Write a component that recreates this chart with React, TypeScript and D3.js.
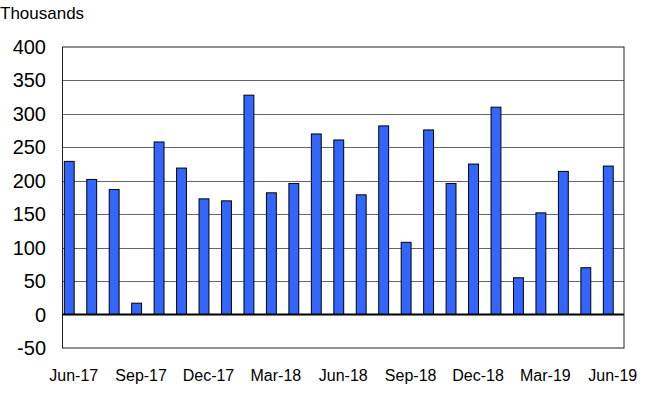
import * as d3 from 'd3';
import React, { useRef, useEffect } from 'react';

const months = [
  'Jun-17', 'Jul-17', 'Aug-17', 'Sep-17', 'Oct-17', 'Nov-17', 'Dec-17', 'Jan-18', 'Feb-18',
  'Mar-18', 'Apr-18', 'May-18', 'Jun-18', 'Jul-18', 'Aug-18', 'Sep-18', 'Oct-18', 'Nov-18',
  'Dec-18', 'Jan-19', 'Feb-19', 'Mar-19', 'Apr-19', 'May-19', 'Jun-19'
];
const values = [
  229, 202, 187, 17, 258, 219, 173, 170, 328,
  182, 196, 270, 261, 179, 282, 108, 276, 196,
  225, 310, 55, 152, 214, 70, 222
];
const tickMonths = ['Jun-17', 'Sep-17', 'Dec-17', 'Mar-18', 'Jun-18', 'Sep-18', 'Dec-18', 'Mar-19', 'Jun-19'];
const yTicks = [-50, 0, 50, 100, 150, 200, 250, 300, 350, 400];

function BarChart() {
  const ref = useRef<SVGSVGElement>(null);

  useEffect(() => {
    const svg = d3.select(ref.current);
    svg.selectAll('*').remove();
    draw(svg);
  }, []);

  const draw = (svg: any) => {
    const left = 62.5, right = 624, top = 47, bottom = 348;
    const font = 'Liberation Sans, Arial, sans-serif';

    const x = d3.scaleBand<string>().domain(months).range([left, right]).padding(0);
    const y = d3.scaleLinear().domain([-50, 400]).range([bottom, top]);

    // units label
    svg.append('text')
      .attr('x', 0)
      .attr('y', 18.5)
      .attr('font-family', font)
      .attr('font-size', '17px')
      .attr('fill', '#000')
      .text('Thousands');

    // gridlines
    svg.append('g')
      .selectAll('line')
      .data(yTicks.filter(d => d !== 0 && d !== -50 && d !== 400))
      .enter()
      .append('line')
      .attr('x1', left)
      .attr('x2', right)
      .attr('y1', (d: number) => Math.round(y(d)) + 0.5)
      .attr('y2', (d: number) => Math.round(y(d)) + 0.5)
      .attr('stroke', '#666')
      .attr('stroke-width', 1);

    // plot frame
    svg.append('rect')
      .attr('x', left)
      .attr('y', top)
      .attr('width', right - left)
      .attr('height', bottom - top)
      .attr('fill', 'none')
      .attr('stroke', '#222')
      .attr('stroke-width', 1);

    // y tick labels
    svg.append('g')
      .selectAll('text')
      .data(yTicks)
      .enter()
      .append('text')
      .attr('x', 46)
      .attr('y', (d: number) => y(d))
      .attr('dy', '0.35em')
      .attr('text-anchor', 'end')
      .attr('font-family', font)
      .attr('font-size', '20px')
      .attr('fill', '#000')
      .text((d: number) => d);

    // bars
    const step = x.bandwidth();
    svg.append('g')
      .selectAll('rect')
      .data(months)
      .enter()
      .append('rect')
      .attr('x', (d: string) => (x(d) as number) + step * 0.08)
      .attr('y', (d: string, i: number) => y(values[i]))
      .attr('width', step * 0.44)
      .attr('height', (d: string, i: number) => y(0) - y(values[i]))
      .attr('fill', '#3366FF')
      .attr('stroke', '#000')
      .attr('stroke-width', 1);

    // zero line
    svg.append('line')
      .attr('x1', left)
      .attr('x2', right)
      .attr('y1', y(0))
      .attr('y2', y(0))
      .attr('stroke', '#000')
      .attr('stroke-width', 2);

    // x tick labels
    svg.append('g')
      .selectAll('text')
      .data(tickMonths)
      .enter()
      .append('text')
      .attr('x', (d: string) => (x(d) as number) + step / 2)
      .attr('y', 381)
      .attr('text-anchor', 'middle')
      .attr('font-family', font)
      .attr('font-size', '16px')
      .attr('fill', '#000')
      .text((d: string) => d);
  };

  return (
    <svg ref={ref} width={653} height={398}
      style={{ position: 'absolute', left: 0, top: 0, background: '#fff' }}>
    </svg>
  );
}

export default function App() {
  return <BarChart />;
}
